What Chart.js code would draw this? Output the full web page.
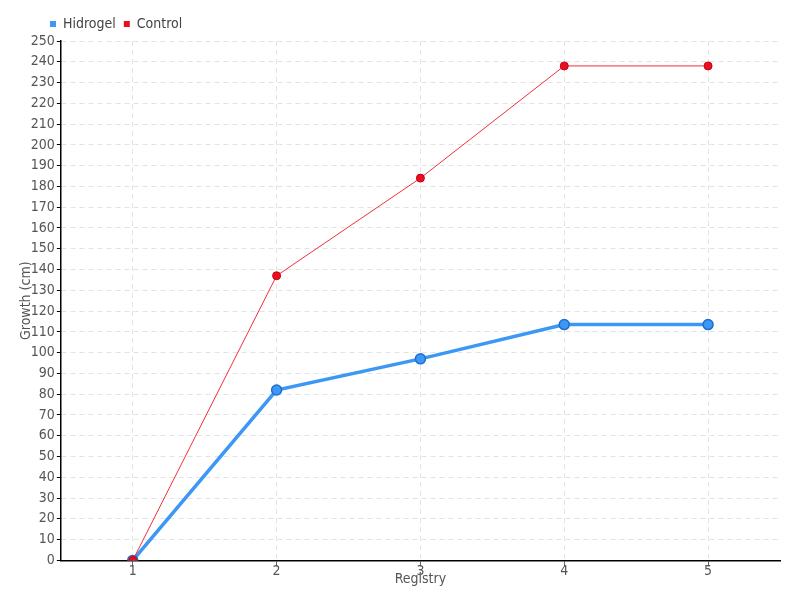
<!DOCTYPE html>
<html><head><meta charset="utf-8">
<script src="https://cdn.jsdelivr.net/npm/chart.js@4"></script>
<style>html,body{margin:0;padding:0;background:#fff}#w{width:800px;height:600px}</style>
</head><body><div id="w"><canvas id="c" width="800" height="600"></canvas></div>
<script>
const categories = ['1', '2', '3', '4', '5'];
const hidrogel = [0, 82, 97, 113.5, 113.5];
const control = [0, 137, 184, 238, 238];
const yTicks = {min: 0, max: 250, step: 10};
const seriesNames = ['Hidrogel', 'Control'];
const axisTitles = {x: 'Registry', y: 'Growth (cm)'};

const FONT = '"DejaVu Sans Condensed", "Liberation Sans Narrow", sans-serif';
Chart.defaults.font.family = FONT;
Chart.defaults.color = '#555';

const legendShift = {
  id: 'legendShift',
  afterLayout(chart) { if (chart.legend) { chart.legend.left += 30; } }
};

new Chart(document.getElementById('c'), {
  type: 'line',
  data: {
    labels: categories,
    datasets: [
      {label: seriesNames[0], data: hidrogel, borderColor: '#3d97f5', backgroundColor: '#3d97f5',
       borderWidth: 3.5, pointRadius: 5, pointBackgroundColor: '#3d97f5', pointBorderColor: '#1f6fcf',
       pointBorderWidth: 1.5, tension: 0, order: 2},
      {label: seriesNames[1], data: control, borderColor: '#f0303f', backgroundColor: '#e8101f',
       borderWidth: 1, pointRadius: 4, pointBackgroundColor: '#e8101f', pointBorderColor: '#c80010',
       pointBorderWidth: 1, tension: 0, order: 1}
    ]
  },
  plugins: [legendShift],
  options: {
    responsive: false,
    animation: false,
    layout: {padding: {left: 12, right: 20, top: 9, bottom: 5}},
    plugins: {
      legend: {
        display: true, align: 'start', position: 'top',
        labels: {boxWidth: 6, boxHeight: 6, font: {size: 14, family: FONT}, color: '#444', padding: 8,
          generateLabels: (chart) => chart.data.datasets.map((d, i) => ({
            text: d.label, fillStyle: d.backgroundColor, strokeStyle: d.backgroundColor,
            lineWidth: 0, datasetIndex: i, fontColor: '#444'}))}
      },
      tooltip: {enabled: false}
    },
    scales: {
      x: {
        offset: true,
        grid: {offset: false, color: '#e3e3e3', tickColor: '#666', tickLength: 6, tickBorderDash: [], drawTicks: true},
        border: {display: true, color: '#000', width: 1.5, dash: [5, 4]},
        ticks: {font: {size: 14, family: FONT}, color: '#555', padding: -3},
        title: {display: true, text: axisTitles.x, font: {size: 14, family: FONT}, color: '#555', padding: {top: -6, bottom: 7}}
      },
      y: {
        min: yTicks.min, max: yTicks.max,
        grid: {color: '#e3e3e3', tickColor: '#000', tickLength: 4, tickBorderDash: []},
        border: {display: true, color: '#000', width: 1.5, dash: [5, 4]},
        ticks: {stepSize: yTicks.step, autoSkip: false, font: {size: 14, family: FONT}, color: '#555', padding: 2},
        title: {display: true, text: axisTitles.y, font: {size: 14, family: FONT}, color: '#555', padding: {top: 6, bottom: -6}}
      }
    }
  }
});
</script></body></html>
